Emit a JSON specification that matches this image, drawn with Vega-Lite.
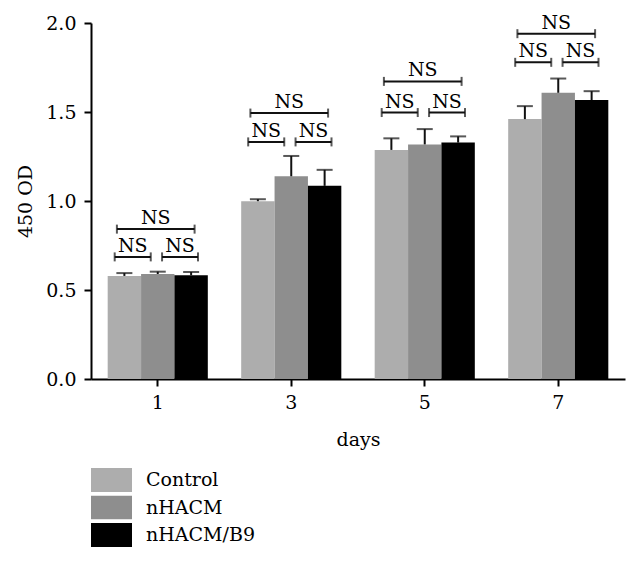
{
  "$schema": "https://vega.github.io/schema/vega-lite/v6.json",
  "width": 534,
  "height": 356,
  "autosize": {"type": "none"},
  "padding": {"left": 91, "top": 23, "right": 15, "bottom": 182},
  "background": "white",
  "config": {
    "view": {"stroke": null},
    "axis": {
      "grid": false,
      "domainColor": "#000000",
      "domainWidth": 2,
      "tickColor": "#000000",
      "tickWidth": 2,
      "tickSize": 7,
      "labelFont": "DejaVu Serif",
      "labelFontSize": 19,
      "labelColor": "#000000",
      "titleFont": "DejaVu Serif",
      "titleFontSize": 19,
      "titleFontWeight": "normal",
      "titleColor": "#000000"
    }
  },
  "datasets": {
    "bars": [
      {"day": "1", "group": "Control", "od": 0.579, "upper": 0.595},
      {"day": "1", "group": "nHACM", "od": 0.59, "upper": 0.603},
      {"day": "1", "group": "nHACM/B9", "od": 0.583, "upper": 0.601},
      {"day": "3", "group": "Control", "od": 0.999, "upper": 1.01},
      {"day": "3", "group": "nHACM", "od": 1.139, "upper": 1.253},
      {"day": "3", "group": "nHACM/B9", "od": 1.085, "upper": 1.175},
      {"day": "5", "group": "Control", "od": 1.287, "upper": 1.352},
      {"day": "5", "group": "nHACM", "od": 1.318, "upper": 1.404},
      {"day": "5", "group": "nHACM/B9", "od": 1.328, "upper": 1.363},
      {"day": "7", "group": "Control", "od": 1.46, "upper": 1.533},
      {"day": "7", "group": "nHACM", "od": 1.608, "upper": 1.688},
      {"day": "7", "group": "nHACM/B9", "od": 1.567, "upper": 1.617}
    ],
    "brackets": [
      {"day": "1", "kind": "left", "level": 0.686, "label": "NS"},
      {"day": "1", "kind": "right", "level": 0.686, "label": "NS"},
      {"day": "1", "kind": "big", "level": 0.842, "label": "NS"},
      {"day": "3", "kind": "left", "level": 1.332, "label": "NS"},
      {"day": "3", "kind": "right", "level": 1.332, "label": "NS"},
      {"day": "3", "kind": "big", "level": 1.494, "label": "NS"},
      {"day": "5", "kind": "left", "level": 1.497, "label": "NS"},
      {"day": "5", "kind": "right", "level": 1.497, "label": "NS"},
      {"day": "5", "kind": "big", "level": 1.672, "label": "NS"},
      {"day": "7", "kind": "left", "level": 1.779, "label": "NS"},
      {"day": "7", "kind": "right", "level": 1.779, "label": "NS"},
      {"day": "7", "kind": "big", "level": 1.94, "label": "NS"}
    ]
  },
  "layer": [
    {
      "data": {"name": "bars"},
      "mark": {"type": "bar"},
      "encoding": {
        "x": {
          "field": "day", "type": "ordinal", "title": "days",
          "scale": {"paddingInner": 0.25, "paddingOuter": 0.125},
          "axis": {"labelAngle": 0, "labelPadding": 7, "titlePadding": 18}
        },
        "xOffset": {
          "field": "group", "type": "nominal",
          "sort": ["Control", "nHACM", "nHACM/B9"],
          "scale": {"paddingInner": 0, "paddingOuter": 0}
        },
        "y": {
          "field": "od", "type": "quantitative", "title": "450 OD",
          "scale": {"domain": [0, 2], "nice": false},
          "axis": {"values": [0, 0.5, 1, 1.5, 2], "format": ".1f", "labelPadding": 8, "titlePadding": 10}
        },
        "color": {
          "field": "group", "type": "nominal",
          "sort": ["Control", "nHACM", "nHACM/B9"],
          "scale": {"domain": ["Control", "nHACM", "nHACM/B9"], "range": ["#adadad", "#8e8e8e", "#000000"]},
          "legend": {
            "title": null,
            "orient": "none",
            "legendX": 0,
            "legendY": 445,
            "padding": 0,
            "symbolType": "M-1,-0.585L1,-0.585L1,0.585L-1,0.585Z",
            "symbolSize": 1681,
            "symbolStrokeWidth": 0,
            "clipHeight": 24,
            "labelFont": "DejaVu Serif",
            "labelFontSize": 19,
            "labelColor": "#000000",
            "labelOffset": 14,
            "rowPadding": 3.5
          }
        }
      }
    },
    {
      "data": {"name": "bars"},
      "mark": {"type": "rule", "color": "#111111", "strokeWidth": 2},
      "encoding": {
        "x": {"field": "day", "type": "ordinal", "title": "days"},
        "xOffset": {"field": "group", "type": "nominal", "sort": ["Control", "nHACM", "nHACM/B9"]},
        "y": {"field": "od", "type": "quantitative", "title": "450 OD"},
        "y2": {"field": "upper"}
      }
    },
    {
      "data": {"name": "bars"},
      "mark": {"type": "tick", "orient": "horizontal", "size": 16, "thickness": 2, "color": "#111111"},
      "encoding": {
        "x": {"field": "day", "type": "ordinal", "title": "days"},
        "xOffset": {"field": "group", "type": "nominal", "sort": ["Control", "nHACM", "nHACM/B9"]},
        "y": {"field": "upper", "type": "quantitative", "title": "450 OD"}
      }
    },
    {
      "data": {"name": "brackets"},
      "transform": [{"filter": "datum.kind === 'left'"}],
      "layer": [
        {
          "mark": {"type": "rule", "color": "#111111", "strokeWidth": 2},
          "encoding": {
            "x": {"field": "day", "type": "ordinal", "title": "days", "bandPosition": 0.07},
            "x2": {"field": "day", "bandPosition": 0.43},
            "y": {"field": "level", "type": "quantitative", "title": "450 OD"}
          }
        },
        {
          "mark": {"type": "tick", "orient": "vertical", "size": 9, "thickness": 2, "color": "#111111"},
          "encoding": {
            "x": {"field": "day", "type": "ordinal", "title": "days", "bandPosition": 0.07},
            "y": {"field": "level", "type": "quantitative", "title": "450 OD"}
          }
        },
        {
          "mark": {"type": "tick", "orient": "vertical", "size": 9, "thickness": 2, "color": "#111111"},
          "encoding": {
            "x": {"field": "day", "type": "ordinal", "title": "days", "bandPosition": 0.43},
            "y": {"field": "level", "type": "quantitative", "title": "450 OD"}
          }
        },
        {
          "mark": {"type": "text", "baseline": "alphabetic", "dy": -5, "fontSize": 19, "font": "DejaVu Serif", "color": "#000000"},
          "encoding": {
            "x": {"field": "day", "type": "ordinal", "title": "days", "bandPosition": 0.25},
            "y": {"field": "level", "type": "quantitative", "title": "450 OD"},
            "text": {"field": "label"}
          }
        }
      ]
    },
    {
      "data": {"name": "brackets"},
      "transform": [{"filter": "datum.kind === 'right'"}],
      "layer": [
        {
          "mark": {"type": "rule", "color": "#111111", "strokeWidth": 2},
          "encoding": {
            "x": {"field": "day", "type": "ordinal", "title": "days", "bandPosition": 0.543},
            "x2": {"field": "day", "bandPosition": 0.902},
            "y": {"field": "level", "type": "quantitative", "title": "450 OD"}
          }
        },
        {
          "mark": {"type": "tick", "orient": "vertical", "size": 9, "thickness": 2, "color": "#111111"},
          "encoding": {
            "x": {"field": "day", "type": "ordinal", "title": "days", "bandPosition": 0.543},
            "y": {"field": "level", "type": "quantitative", "title": "450 OD"}
          }
        },
        {
          "mark": {"type": "tick", "orient": "vertical", "size": 9, "thickness": 2, "color": "#111111"},
          "encoding": {
            "x": {"field": "day", "type": "ordinal", "title": "days", "bandPosition": 0.902},
            "y": {"field": "level", "type": "quantitative", "title": "450 OD"}
          }
        },
        {
          "mark": {"type": "text", "baseline": "alphabetic", "dy": -5, "fontSize": 19, "font": "DejaVu Serif", "color": "#000000"},
          "encoding": {
            "x": {"field": "day", "type": "ordinal", "title": "days", "bandPosition": 0.722},
            "y": {"field": "level", "type": "quantitative", "title": "450 OD"},
            "text": {"field": "label"}
          }
        }
      ]
    },
    {
      "data": {"name": "brackets"},
      "transform": [{"filter": "datum.kind === 'big'"}],
      "layer": [
        {
          "mark": {"type": "rule", "color": "#111111", "strokeWidth": 2},
          "encoding": {
            "x": {"field": "day", "type": "ordinal", "title": "days", "bandPosition": 0.092},
            "x2": {"field": "day", "bandPosition": 0.868},
            "y": {"field": "level", "type": "quantitative", "title": "450 OD"}
          }
        },
        {
          "mark": {"type": "tick", "orient": "vertical", "size": 9, "thickness": 2, "color": "#111111"},
          "encoding": {
            "x": {"field": "day", "type": "ordinal", "title": "days", "bandPosition": 0.092},
            "y": {"field": "level", "type": "quantitative", "title": "450 OD"}
          }
        },
        {
          "mark": {"type": "tick", "orient": "vertical", "size": 9, "thickness": 2, "color": "#111111"},
          "encoding": {
            "x": {"field": "day", "type": "ordinal", "title": "days", "bandPosition": 0.868},
            "y": {"field": "level", "type": "quantitative", "title": "450 OD"}
          }
        },
        {
          "mark": {"type": "text", "baseline": "alphabetic", "dy": -5, "fontSize": 19, "font": "DejaVu Serif", "color": "#000000"},
          "encoding": {
            "x": {"field": "day", "type": "ordinal", "title": "days", "bandPosition": 0.48},
            "y": {"field": "level", "type": "quantitative", "title": "450 OD"},
            "text": {"field": "label"}
          }
        }
      ]
    }
  ]
}
